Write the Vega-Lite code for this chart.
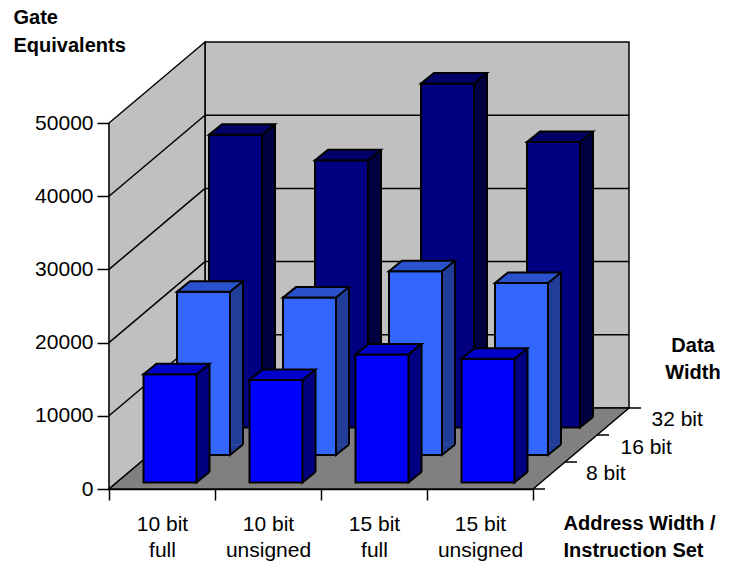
{
  "$schema": "https://vega.github.io/schema/vega-lite/v6.json",
  "width": 424,
  "height": 366,
  "autosize": {"type": "none"},
  "padding": {"left": 109, "top": 123, "right": 201, "bottom": 72},
  "background": "white",
  "config": {
    "font": "Liberation Sans",
    "view": {"stroke": null},
    "axis": {"domainColor": "black", "tickColor": "black", "labelColor": "black", "titleColor": "black", "domainWidth": 1.5, "tickWidth": 1.5, "grid": false, "labelFont": "Liberation Sans", "titleFont": "Liberation Sans"}
  },
  "datasets": {
    "gates": [
      {"address": "10 bit full", "dataWidth": "8 bit", "gates": 14800},
      {"address": "10 bit unsigned", "dataWidth": "8 bit", "gates": 14000},
      {"address": "15 bit full", "dataWidth": "8 bit", "gates": 17500},
      {"address": "15 bit unsigned", "dataWidth": "8 bit", "gates": 16900},
      {"address": "10 bit full", "dataWidth": "16 bit", "gates": 22300},
      {"address": "10 bit unsigned", "dataWidth": "16 bit", "gates": 21500},
      {"address": "15 bit full", "dataWidth": "16 bit", "gates": 25100},
      {"address": "15 bit unsigned", "dataWidth": "16 bit", "gates": 23500},
      {"address": "10 bit full", "dataWidth": "32 bit", "gates": 40000},
      {"address": "10 bit unsigned", "dataWidth": "32 bit", "gates": 36500},
      {"address": "15 bit full", "dataWidth": "32 bit", "gates": 47000},
      {"address": "15 bit unsigned", "dataWidth": "32 bit", "gates": 39000}
    ],
    "gridValues": [{"v": 10000}, {"v": 20000}, {"v": 30000}, {"v": 40000}],
    "blank": [{}]
  },
  "layer": [
    {"data": {"name": "gates"}, "transform": [{"filter": "datum.dataWidth === '32 bit'"}], "mark": {"type": "bar", "width": 13, "xOffset": 106.5, "yOffset": -72, "y2Offset": -72, "fill": "#000040", "strokeWidth": 0, "opacity": 0},
     "encoding": {
       "x": {"field": "address", "type": "nominal", "scale": {"domain": ["10 bit full", "10 bit unsigned", "15 bit full", "15 bit unsigned"], "paddingInner": 0, "paddingOuter": 0},
             "axis": {"title": ["Address Width /", "Instruction Set"], "titleFontWeight": "bold", "titleFontSize": 20, "titleAlign": "left", "titleAnchor": "start", "titleX": 454, "titleY": 40, "titleBaseline": "alphabetic", "titleLineHeight": 27, "labelAngle": 0, "labelFontSize": 21, "labelLineHeight": 26, "labelPadding": 13, "tickSize": 11, "tickBand": "extent", "labelExpr": "[slice(datum.label, 0, 6), slice(datum.label, 7)]"}},
       "y": {"field": "gates", "type": "quantitative", "scale": {"domain": [0, 50000], "nice": false},
             "axis": {"title": ["Gate", "Equivalents"], "titleAngle": 0, "titleAlign": "left", "titleAnchor": "start", "titleX": -96, "titleY": -100, "titleBaseline": "alphabetic", "titleLineHeight": 28, "titleFontWeight": "bold", "titleFontSize": 20, "values": [0, 10000, 20000, 30000, 40000, 50000], "format": "d", "labelFontSize": 21, "tickSize": 12, "labelPadding": 4}},
       "y2": {"datum": 0}}},

    {"data": {"name": "blank"}, "mark": {"type": "point", "shape": "M-116,-81 L308,-81 L308,-447 L-116,-447 Z", "size": 4, "filled": true, "fill": "#C0C0C0", "stroke": "black", "strokeWidth": 1.5, "opacity": 1}, "encoding": {"y": {"datum": 0, "type": "quantitative"}}},
    {"data": {"name": "gridValues"}, "mark": {"type": "point", "shape": "M-116,-81 L308,-81", "size": 4, "filled": false, "stroke": "black", "strokeWidth": 1.5, "opacity": 1}, "encoding": {"y": {"field": "v", "type": "quantitative"}}},
    {"data": {"name": "blank"}, "mark": {"type": "point", "shape": "M-212,0 L-212,-366 L-116,-447 L-116,-81 Z", "size": 4, "filled": true, "fill": "#C0C0C0", "stroke": "black", "strokeWidth": 1.5, "opacity": 1}, "encoding": {"y": {"datum": 0, "type": "quantitative"}}},
    {"data": {"name": "gridValues"}, "mark": {"type": "point", "shape": "M-212,0 L-116,-81", "size": 4, "filled": false, "stroke": "black", "strokeWidth": 1.5, "opacity": 1}, "encoding": {"y": {"field": "v", "type": "quantitative"}}},
    {"data": {"name": "blank"}, "mark": {"type": "point", "shape": "M-212,0 L212,0 L308,-81 L-116,-81 Z", "size": 4, "filled": true, "fill": "#808080", "stroke": "black", "strokeWidth": 1.5, "opacity": 1}, "encoding": {"y": {"datum": 0, "type": "quantitative"}}},
    {"data": {"name": "blank"}, "mark": {"type": "point", "shape": "M212,0 L224,0 M244,-27 L256,-27 M276,-54 L288,-54 M308,-81 L320,-81", "size": 4, "filled": false, "stroke": "black", "strokeWidth": 1.5, "opacity": 1}, "encoding": {"y": {"datum": 0, "type": "quantitative"}}},
    {"data": {"name": "blank"}, "mark": {"type": "text", "fontSize": 21, "align": "left", "baseline": "middle", "dx": 265, "dy": -15.5, "color": "black"}, "encoding": {"text": {"datum": "8 bit"}, "y": {"datum": 0, "type": "quantitative"}}},
    {"data": {"name": "blank"}, "mark": {"type": "text", "fontSize": 21, "align": "left", "baseline": "middle", "dx": 299.5, "dy": -41.5, "color": "black"}, "encoding": {"text": {"datum": "16 bit"}, "y": {"datum": 0, "type": "quantitative"}}},
    {"data": {"name": "blank"}, "mark": {"type": "text", "fontSize": 21, "align": "left", "baseline": "middle", "dx": 330.5, "dy": -69.5, "color": "black"}, "encoding": {"text": {"datum": "32 bit"}, "y": {"datum": 0, "type": "quantitative"}}},
    {"data": {"name": "blank"}, "mark": {"type": "text", "text": ["Data", "Width"], "fontSize": 20, "fontWeight": "bold", "align": "center", "baseline": "alphabetic", "lineHeight": 27, "dx": 372, "dy": -137, "color": "black"}, "encoding": {"y": {"datum": 0, "type": "quantitative"}}},

    {"data": {"name": "gates"}, "transform": [{"filter": "datum.dataWidth === '32 bit'"}], "mark": {"type": "bar", "width": 13, "xOffset": 106.5, "yOffset": -72, "y2Offset": -72, "fill": "#000040", "strokeWidth": 0},
     "encoding": {"x": {"field": "address", "type": "nominal"}, "y": {"field": "gates", "type": "quantitative"}, "y2": {"datum": 0}}},
    {"data": {"name": "gates"}, "transform": [{"filter": "datum.dataWidth === '32 bit'"}], "mark": {"type": "point", "shape": "M0,-10.5 L0,0 L13,-10.5", "size": 4, "filled": true, "fill": "#000040", "stroke": "black", "strokeWidth": 2, "opacity": 1, "xOffset": 100, "yOffset": -61.5},
     "encoding": {"x": {"field": "address", "type": "nominal"}, "y": {"datum": 0, "type": "quantitative"}}},
    {"data": {"name": "gates"}, "transform": [{"filter": "datum.dataWidth === '32 bit'"}], "mark": {"type": "rule", "xOffset": 113, "yOffset": -72, "y2Offset": -72, "stroke": "black", "strokeWidth": 2},
     "encoding": {"x": {"field": "address", "type": "nominal"}, "y": {"field": "gates", "type": "quantitative"}, "y2": {"datum": 0}}},
    {"data": {"name": "gates"}, "transform": [{"filter": "datum.dataWidth === '32 bit'"}], "mark": {"type": "bar", "width": {"band": 0.5}, "xOffset": 73.5, "yOffset": -61.5, "y2Offset": -61.5, "fill": "#000080", "stroke": "black", "strokeWidth": 2},
     "encoding": {"x": {"field": "address", "type": "nominal"}, "y": {"field": "gates", "type": "quantitative"}, "y2": {"datum": 0}}},
    {"data": {"name": "gates"}, "transform": [{"filter": "datum.dataWidth === '32 bit'"}], "mark": {"type": "point", "shape": "M-26.5,0 L26.5,0 L39.5,-10.5 L-13.5,-10.5 Z", "size": 4, "filled": true, "fill": "#000066", "stroke": "black", "strokeWidth": 2, "opacity": 1, "xOffset": 73.5, "yOffset": -61.5},
     "encoding": {"x": {"field": "address", "type": "nominal"}, "y": {"field": "gates", "type": "quantitative"}}},

    {"data": {"name": "gates"}, "transform": [{"filter": "datum.dataWidth === '16 bit'"}], "mark": {"type": "bar", "width": 13, "xOffset": 74.5, "yOffset": -44.5, "y2Offset": -44.5, "fill": "#1F3D99", "strokeWidth": 0},
     "encoding": {"x": {"field": "address", "type": "nominal"}, "y": {"field": "gates", "type": "quantitative"}, "y2": {"datum": 0}}},
    {"data": {"name": "gates"}, "transform": [{"filter": "datum.dataWidth === '16 bit'"}], "mark": {"type": "point", "shape": "M0,-10.5 L0,0 L13,-10.5", "size": 4, "filled": true, "fill": "#1F3D99", "stroke": "black", "strokeWidth": 2, "opacity": 1, "xOffset": 68, "yOffset": -34},
     "encoding": {"x": {"field": "address", "type": "nominal"}, "y": {"datum": 0, "type": "quantitative"}}},
    {"data": {"name": "gates"}, "transform": [{"filter": "datum.dataWidth === '16 bit'"}], "mark": {"type": "rule", "xOffset": 81, "yOffset": -44.5, "y2Offset": -44.5, "stroke": "black", "strokeWidth": 2},
     "encoding": {"x": {"field": "address", "type": "nominal"}, "y": {"field": "gates", "type": "quantitative"}, "y2": {"datum": 0}}},
    {"data": {"name": "gates"}, "transform": [{"filter": "datum.dataWidth === '16 bit'"}], "mark": {"type": "bar", "width": {"band": 0.5}, "xOffset": 41.5, "yOffset": -34, "y2Offset": -34, "fill": "#3366FF", "stroke": "black", "strokeWidth": 2},
     "encoding": {"x": {"field": "address", "type": "nominal"}, "y": {"field": "gates", "type": "quantitative"}, "y2": {"datum": 0}}},
    {"data": {"name": "gates"}, "transform": [{"filter": "datum.dataWidth === '16 bit'"}], "mark": {"type": "point", "shape": "M-26.5,0 L26.5,0 L39.5,-10.5 L-13.5,-10.5 Z", "size": 4, "filled": true, "fill": "#2952CC", "stroke": "black", "strokeWidth": 2, "opacity": 1, "xOffset": 41.5, "yOffset": -34},
     "encoding": {"x": {"field": "address", "type": "nominal"}, "y": {"field": "gates", "type": "quantitative"}}},

    {"data": {"name": "gates"}, "transform": [{"filter": "datum.dataWidth === '8 bit'"}], "mark": {"type": "bar", "width": 13, "xOffset": 41, "yOffset": -17, "y2Offset": -17, "fill": "#000080", "strokeWidth": 0},
     "encoding": {"x": {"field": "address", "type": "nominal"}, "y": {"field": "gates", "type": "quantitative"}, "y2": {"datum": 0}}},
    {"data": {"name": "gates"}, "transform": [{"filter": "datum.dataWidth === '8 bit'"}], "mark": {"type": "point", "shape": "M0,-10.5 L0,0 L13,-10.5", "size": 4, "filled": true, "fill": "#000080", "stroke": "black", "strokeWidth": 2, "opacity": 1, "xOffset": 34.5, "yOffset": -6.5},
     "encoding": {"x": {"field": "address", "type": "nominal"}, "y": {"datum": 0, "type": "quantitative"}}},
    {"data": {"name": "gates"}, "transform": [{"filter": "datum.dataWidth === '8 bit'"}], "mark": {"type": "rule", "xOffset": 47.5, "yOffset": -17, "y2Offset": -17, "stroke": "black", "strokeWidth": 2},
     "encoding": {"x": {"field": "address", "type": "nominal"}, "y": {"field": "gates", "type": "quantitative"}, "y2": {"datum": 0}}},
    {"data": {"name": "gates"}, "transform": [{"filter": "datum.dataWidth === '8 bit'"}], "mark": {"type": "bar", "width": {"band": 0.5}, "xOffset": 8, "yOffset": -6.5, "y2Offset": -6.5, "fill": "#0000FF", "stroke": "black", "strokeWidth": 2},
     "encoding": {"x": {"field": "address", "type": "nominal"}, "y": {"field": "gates", "type": "quantitative"}, "y2": {"datum": 0}}},
    {"data": {"name": "gates"}, "transform": [{"filter": "datum.dataWidth === '8 bit'"}], "mark": {"type": "point", "shape": "M-26.5,0 L26.5,0 L39.5,-10.5 L-13.5,-10.5 Z", "size": 4, "filled": true, "fill": "#0000CC", "stroke": "black", "strokeWidth": 2, "opacity": 1, "xOffset": 8, "yOffset": -6.5},
     "encoding": {"x": {"field": "address", "type": "nominal"}, "y": {"field": "gates", "type": "quantitative"}}}
  ]
}
